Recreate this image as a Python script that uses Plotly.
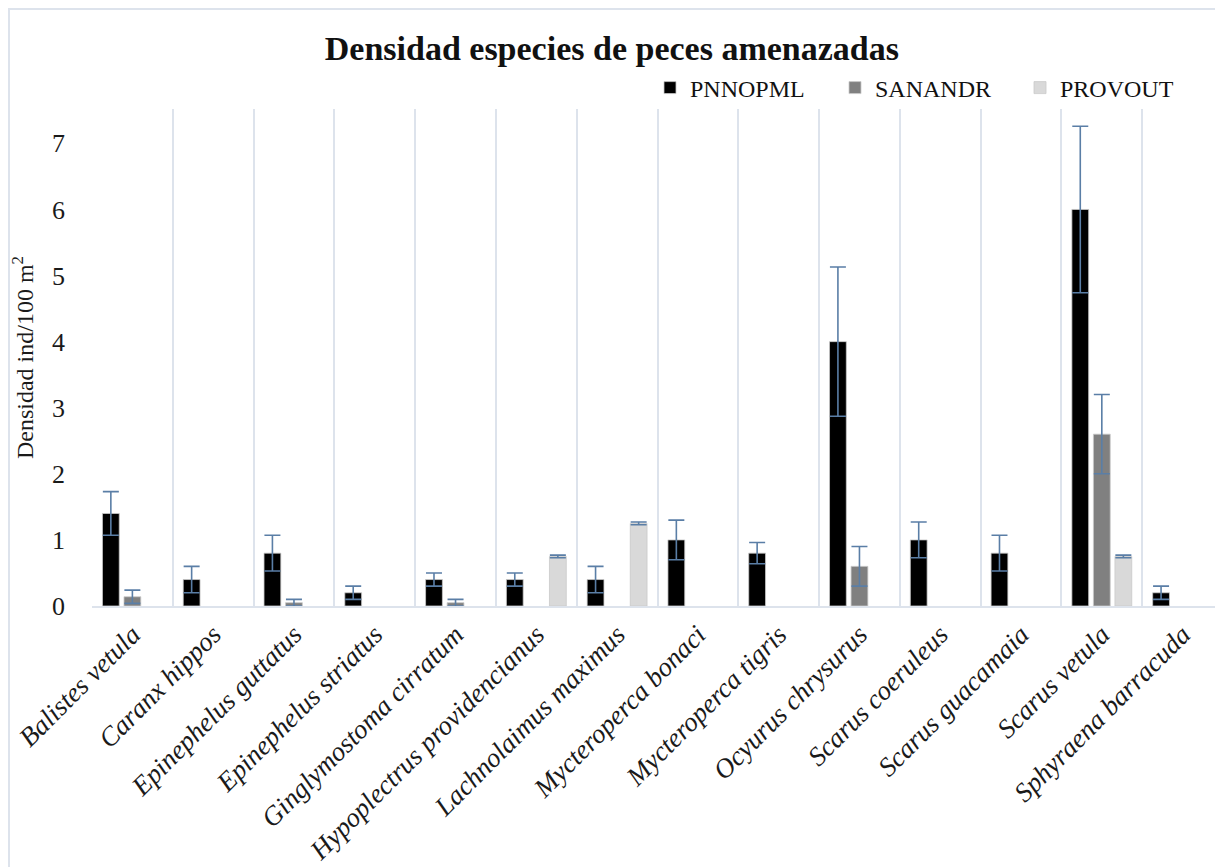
import plotly.graph_objects as go

species = ["Balistes vetula", "Caranx hippos", "Epinephelus guttatus", "Epinephelus striatus",
           "Ginglymostoma cirratum", "Hypoplectrus providencianus", "Lachnolaimus maximus",
           "Mycteroperca bonaci", "Mycteroperca tigris", "Ocyurus chrysurus", "Scarus coeruleus",
           "Scarus guacamaia", "Scarus vetula", "Sphyraena barracuda"]

pnnopml = [1.4, 0.4, 0.8, 0.2, 0.4, 0.4, 0.4, 1.0, 0.8, 4.0, 1.0, 0.8, 6.0, 0.2]
pnnopml_err = [0.33, 0.2, 0.27, 0.1, 0.1, 0.1, 0.2, 0.3, 0.16, 1.13, 0.27, 0.27, 1.26, 0.1]

sanandr = [0.14, None, 0.05, None, 0.05, None, None, None, None, 0.6, None, None, 2.6, None]
sanandr_err = [0.1, None, 0.05, None, 0.05, None, None, None, None, 0.3, None, None, 0.6, None]

provout = [None, None, None, None, None, 0.75, 1.25, None, None, None, None, None, 0.75, None]
provout_err = [None, None, None, None, None, 0.02, 0.02, None, None, None, None, None, 0.02, None]

series = [
    ("PNNOPML", pnnopml, pnnopml_err, "#000000"),
    ("SANANDR", sanandr, sanandr_err, "#808080"),
    ("PROVOUT", provout, provout_err, "#d9d9d9"),
]

SERIF = "Liberation Serif"
ERR_COLOR = "#5a7ea6"
GRID = "#dde3ec"

fig = go.Figure()
for name, vals, errs, color in series:
    fig.add_trace(go.Bar(
        x=species, y=vals, name=name,
        marker=dict(color=color, line=dict(color="#c9c9c9", width=0.8)),
        error_y=dict(type="data", array=errs, visible=True, color=ERR_COLOR,
                     thickness=1.6, width=8),
    ))

# page has an 8px body margin: figure spans page x 8..1223
W, H = 1215, 867
L, R, T, B = 84, 0, 101, 269
pw = W - L - R
ph = H - T - B

fig.update_layout(
    width=W, height=H,
    margin=dict(l=L, r=R, t=T, b=B),
    paper_bgcolor="white", plot_bgcolor="white",
    barmode="group", bargap=0.2, bargroupgap=0.22,
    title=dict(text="<b>Densidad especies de peces amenazadas</b>",
               font=dict(family=SERIF, size=34, color="#111111"),
               x=0.497, xref="container", y=1 - 40 / H, yanchor="middle"),
    legend=dict(orientation="h", x=(642 - L) / pw, xanchor="left",
                y=(598 - 80) / ph, yanchor="middle",
                entrywidth=140, entrywidthmode="pixels",
                font=dict(family=SERIF, size=24, color="#111111"),
                bgcolor="rgba(0,0,0,0)"),
    xaxis=dict(type="category", range=[-0.5, 13.5], tickson="boundaries",
               showgrid=True, gridcolor=GRID, gridwidth=1.5,
               showline=True, linecolor=GRID, linewidth=2,
               ticks="", tickangle=-45,
               tickfont=dict(family=SERIF, size=27, color="#1a1a1a", style="italic")),
    yaxis=dict(range=[0, 7.52], dtick=1, tick0=0, showgrid=False, zeroline=False,
               showline=False, ticks="", ticklabelstandoff=26,
               tickfont=dict(family=SERIF, size=26, color="#1a1a1a"),
               title=dict(text="Densidad ind/100 m<sup>2</sup>",
                          font=dict(family=SERIF, size=24, color="#1a1a1a"),
                          standoff=16)),
    shapes=[dict(type="rect", xref="paper", yref="paper",
                 x0=(1 - L) / pw, x1=1.2, y0=-1.0, y1=(598 - 1) / ph,
                 line=dict(color=GRID, width=2), layer="below")],
)

fig.write_html("out.html")
